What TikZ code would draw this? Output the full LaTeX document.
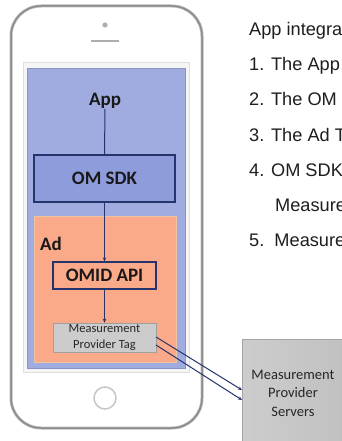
\documentclass[tikz,border=0pt]{standalone}
\usepackage{fontspec}
\setmainfont{Liberation Sans}
\newfontfamily\calib{Carlito}
\usetikzlibrary{arrows.meta}
\definecolor{scrblue}{RGB}{160,172,224}
\definecolor{sdkblue}{RGB}{142,156,220}
\definecolor{navy}{RGB}{38,52,110}
\definecolor{adorange}{RGB}{250,170,136}
\definecolor{adborder}{RGB}{238,196,160}
\definecolor{tagfill}{RGB}{204,204,204}
\definecolor{tagborder}{RGB}{160,160,160}
\definecolor{srvfill}{RGB}{192,192,192}
\definecolor{phonegray}{RGB}{140,140,140}
\definecolor{txtgray}{RGB}{30,30,30}
\tikzset{
  lbl/.style={font=\calib\bfseries\fontsize{19}{22}\selectfont, text=black!90, inner sep=0pt},
  boxa/.style={draw=navy, line width=1.2pt, inner sep=0pt, lbl},
  conn/.style={draw=navy, line width=1pt, -{Stealth[length=4pt,width=3.5pt]}},
  rtext/.style={anchor=base west, inner sep=0pt, text=txtgray, font=\fontsize{18.2}{21}\selectfont}
}
\begin{document}
\begin{tikzpicture}[x=1pt,y=-1pt]
\useasboundingbox (0,0) rectangle (342,441);
\clip (0,0) rectangle (342,441);
\fill[white] (0,0) rectangle (342,441);
% phone
\draw[phonegray!60, line width=3pt, rounded corners=30pt] (11,6) rectangle (202,428);
\draw[phonegray, line width=1.5pt, rounded corners=30pt] (11,6) rectangle (202,428);
\fill[phonegray!70] (105,25) circle (2.6);
\draw[phonegray!70, line width=2pt] (91,41) -- (119,41);
\draw[gray!45, line width=1.5pt] (105,398) circle (11);
% screen
\draw[fill=gray!8, draw=gray!25, line width=1pt] (23,63) rectangle (189,372);
\draw[fill=scrblue, draw=scrblue!80!navy, line width=0.6pt] (27,68) rectangle (185,368);
\draw[fill=adorange, draw=adborder, line width=0.8pt] (34,216) rectangle (176,362);
% nodes
\node[lbl] (app) at (105,101) {App};
\node[boxa, fill=sdkblue, minimum width=141pt, minimum height=47pt] (sdk) at (104.5,178.5) {OM SDK};
\node[lbl, anchor=west] (ad) at (40,244) {Ad};
\node[boxa, fill=adorange, minimum width=103pt, minimum height=27pt] (omid) at (104.5,275.5) {OMID API};
\node[draw=tagborder, fill=tagfill, line width=0.6pt, minimum width=103pt, minimum height=29pt, inner sep=0pt, align=center, font=\calib\fontsize{12.5}{16}\selectfont, text=black!85] (tag) at (104.5,337.5) {Measurement\\Provider Tag};
\node[draw=srvfill!85!black, line width=0.4pt, left color=srvfill!80!white, right color=srvfill, anchor=north west, minimum width=110pt, minimum height=110pt, inner sep=0pt] (srv) at (242,339) {};
\node[align=center, inner sep=0pt, font=\calib\fontsize{14.5}{18.5}\selectfont, text=black!85] (srvt) at (293,393) {Measurement\\Provider\\Servers};
% connectors
\draw[draw=navy, line width=1pt] (app.south) -- (sdk.north);
\draw[conn] (sdk.south) -- (omid.north);
\draw[conn] (omid.south) -- (tag.north);
\coordinate (s1) at (156,337);
\coordinate (s2) at (156,345);
\coordinate (e1) at (242,390);
\coordinate (e2) at (242,400);
\draw[conn] (s1) -- (e1);
\draw[conn] (s2) -- (e2);
% right text
\node[rtext] (t0) at (249,36) {App integra};
\node[rtext] (t1) at (249,71) {1. The App};
\node[rtext] (t2) at (249,106) {2. The OM};
\node[rtext] (t3) at (249,141) {3. The Ad T};
\node[rtext] (t4) at (249,176) {4. OM SDK};
\node[rtext] (t5) at (275,211) {Measure};
\node[rtext] (t6) at (249,246) {5.\ \ Measure};
\end{tikzpicture}
\end{document}
